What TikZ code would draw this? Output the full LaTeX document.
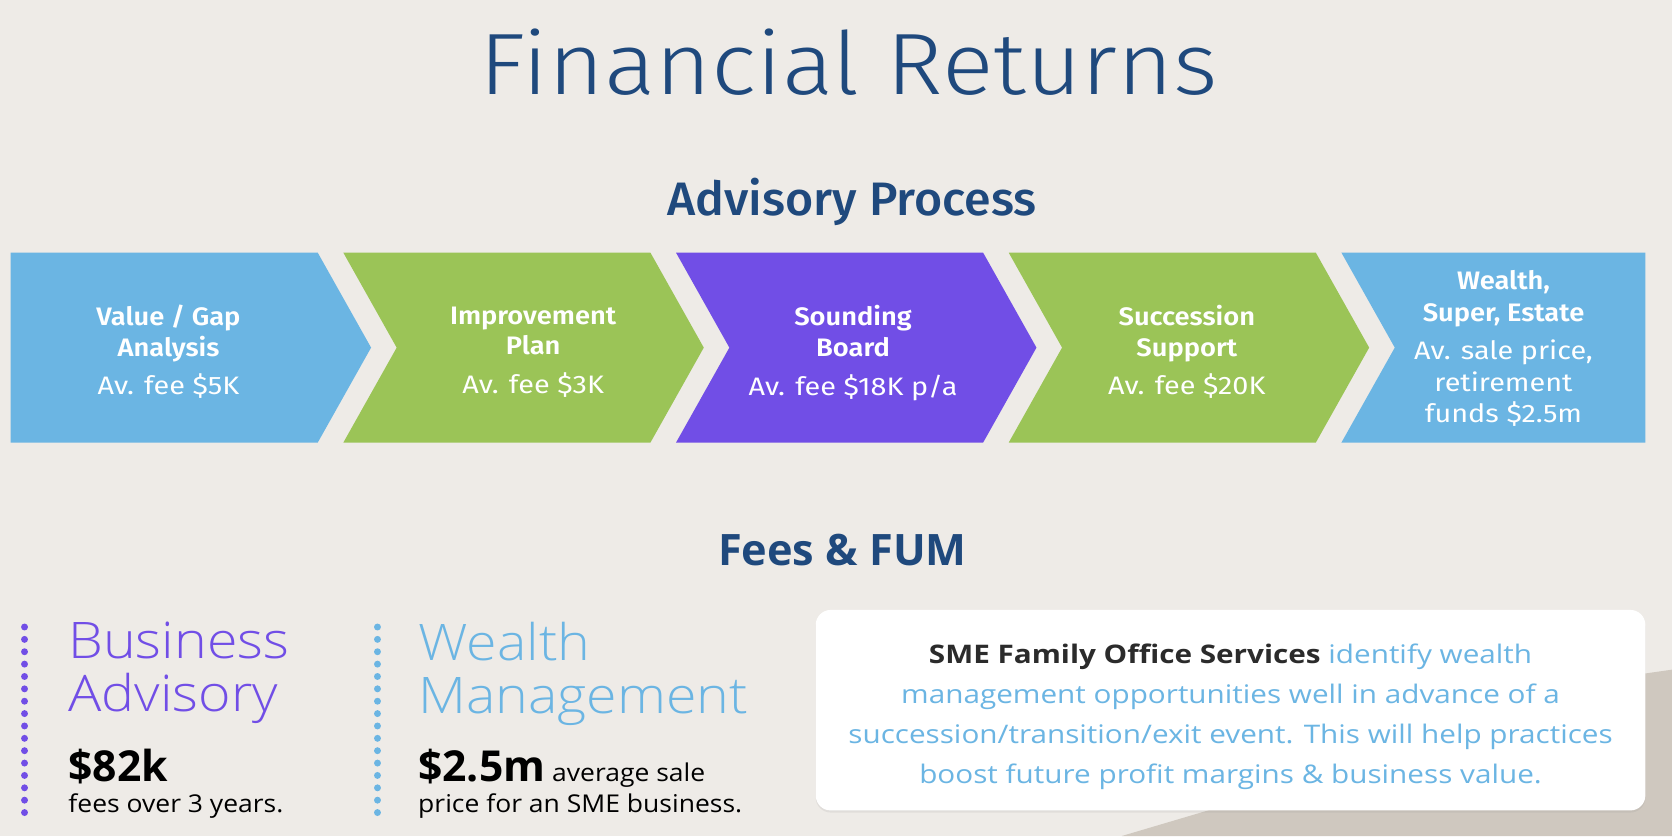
\documentclass[tikz,border=0pt]{standalone}
\usepackage{fontspec}
\setmainfont{Fira Sans}
\newfontfamily\plexlight{Fira Sans Light}[FakeStretch=1.1]
\newfontfamily\plexmedium{Fira Sans Medium}[FakeStretch=1.03]
\newfontfamily\plexsemi{Fira Sans SemiBold}[FakeStretch=1.08]
\newfontfamily\plexbook{Fira Sans}[FakeStretch=1.14]
\newfontfamily\worksans{Open Sans}
\newfontfamily\worklight{Open Sans Light}[FakeStretch=1.1]
\newfontfamily\worknote{Open Sans}[FakeStretch=1.08]
\newfontfamily\workbox{Open Sans}[FakeStretch=1.16]
\usetikzlibrary{shadows}

\definecolor{pagebg}{HTML}{EEEBE7}
\definecolor{navy}{HTML}{1F497D}
\definecolor{skyblue}{HTML}{6BB5E3}
\definecolor{leafgreen}{HTML}{9BC457}
\definecolor{advpurple}{HTML}{714EE6}
\definecolor{inkdark}{HTML}{2B2B2B}
\definecolor{blobgrey}{HTML}{CFC8BF}

\newcommand{\stephead}[1]{{\plexsemi #1}}

\begin{document}
\begin{tikzpicture}[
    x=1pt, y=-1pt,
    title/.style={text=navy, inner sep=0pt, anchor=base, font=\plexlight\fontsize{81.7}{90}\selectfont},
    heading/.style={text=navy, inner sep=0pt, anchor=base},
    steptext/.style={text=white, inner sep=0pt, align=center, font=\plexbook\fontsize{23.7}{29}\selectfont},
    fumhead/.style={inner sep=0pt, align=left, anchor=north west, font=\worklight\fontsize{47.3}{50}\selectfont},
    fumnote/.style={inner sep=0pt, align=left, anchor=north west, font=\worknote\fontsize{23}{29}\selectfont},
    dotline/.style={line width=6.5pt, line cap=round, dash pattern=on 0pt off 11.6pt},
    infobox/.style={fill=white, rounded corners=14pt, minimum width=778pt, minimum height=188pt,
        drop shadow={opacity=0.12, shadow xshift=0pt, shadow yshift=-2pt}},
    infotext/.style={inner sep=0pt, align=center, text=skyblue, font=\workbox\fontsize{24}{37.5}\selectfont}
]

% background
\fill[pagebg] (0,0) rectangle (1568,784);

% titles
\node[title] (title) at (796,88.5) {Financial Returns};
\node[heading, font=\plexmedium\fontsize{44}{48}\selectfont] (advhead) at (799,202.5) {Advisory Process};
\node[heading, font=\worksans\bfseries\fontsize{40.6}{44}\selectfont] (fumhead) at (790,530) {Fees \& FUM};

% chevrons
\fill[skyblue] (10,237) -- ++(288,0) -- ++(50,89) -- ++(-50,89) -- ++(-288,0) -- cycle;
\foreach \L/\col in {322/leafgreen, 634/advpurple, 946/leafgreen} {
    \fill[\col] (\L,237) -- ++(288,0) -- ++(50,89) -- ++(-50,89) -- ++(-288,0) -- ++(50,-89) -- cycle;
}
\fill[skyblue] (1258,237) -- (1543,237) -- (1543,415) -- (1258,415) -- (1308,326) -- cycle;

% chevron texts
\node[steptext] (gap) at (158,330) {\stephead{Value / Gap}\\\stephead{Analysis}\\[7pt]Av. fee \$5K};
\node[steptext] (plan) at (500,330) {\stephead{Improvement}\\\stephead{Plan}\\[7pt]Av. fee \$3K};
\node[steptext] (board) at (800,331) {\stephead{Sounding}\\\stephead{Board}\\[7pt]Av. fee \$18K p/a};
\node[steptext] (succ) at (1113,330) {\stephead{Succession}\\\stephead{Support}\\[7pt]Av. fee \$20K};
\node[steptext, font=\plexbook\fontsize{23.7}{29.7}\selectfont] (wealth) at (1410,327)
    {\stephead{Wealth,}\\\stephead{Super, Estate}\\[6pt]Av. sale price,\\retirement\\funds \$2.5m};

% fees and FUM
\draw[dotline, advpurple] (23,588) -- (23,762);
\draw[dotline, skyblue] (354,588) -- (354,762);

\node[fumhead, text=advpurple] (busadv) at (64,583) {Business\\Advisory};
\node[fumhead, text=skyblue] (wealthmgmt) at (392,583) {Wealth\\Management};

\node[fumnote] (busfee) at (64,702) {{\worksans\bfseries\fontsize{40}{29}\selectfont \$82k}\\fees over 3 years.};
\node[fumnote] (wealthfee) at (392,702) {{\worksans\bfseries\fontsize{40}{29}\selectfont \$2.5m} average sale\\price for an SME business.};

% photo behind the box
\fill[blobgrey] (1052,784) -- (1160,752) -- (1400,652) -- (1568,628) -- (1568,784) -- cycle;

% info box
\node[infobox] (sfobox) at (1154,666) {};
\node[infotext] (sfotext) at (1154,672.5) {{\bfseries\color{inkdark}SME Family Office Services} identify wealth\\
    management opportunities well in advance of a\\
    succession/transition/exit event. This will help practices\\
    boost future profit margins \& business value.};

\end{tikzpicture}
\end{document}
